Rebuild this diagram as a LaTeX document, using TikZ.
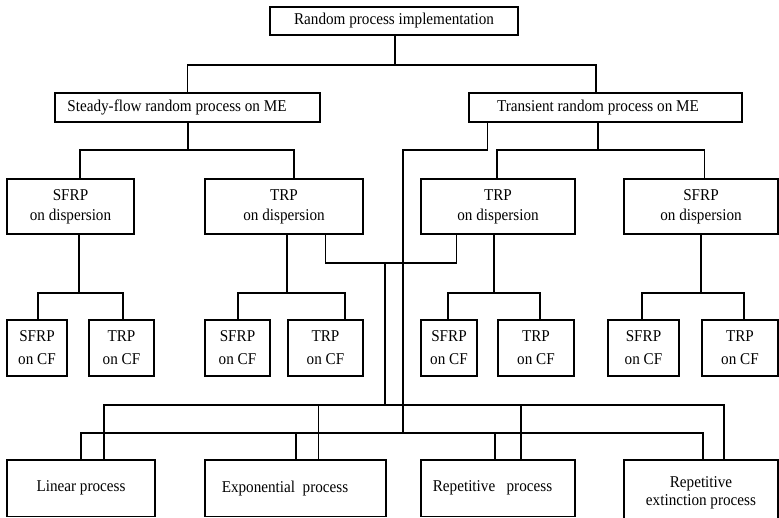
\documentclass[tikz,border=0pt]{standalone}
\usepackage{fontspec}
\setmainfont[FakeStretch=0.92]{Liberation Serif}
\usetikzlibrary{positioning,calc}
\tikzset{
  blk/.style={draw,line width=1.1pt,align=center,font=\fontsize{16.5}{20}\selectfont,inner sep=2pt},
  mebox/.style={blk,minimum height=29pt},
  disp/.style={blk,minimum height=55pt},
  leaf/.style={blk,minimum height=56pt,font=\fontsize{16.5}{23}\selectfont},
  proc/.style={blk,minimum height=56.5pt,font=\fontsize{16.5}{18}\selectfont},
  ln/.style={line width=1.1pt},
}

\begin{document}
\begin{tikzpicture}[x=1pt,y=-1pt]
  \useasboundingbox (0,0) rectangle (779,517);
  \clip (0,0) rectangle (779,517);
  \node[blk,minimum width=248pt,minimum height=28pt] (root) at (394,21) {Random process implementation};
  \node[mebox,minimum width=265pt] (sfme) at (187.5,107.5) {Steady-flow random process on ME\hspace*{21pt}};
  \node[mebox,minimum width=273pt] (trme) at (605.5,107.5) {Transient random process on ME\hspace*{15pt}};
  \node[disp,minimum width=127pt] (d1) at (70.5,206.5) {SFRP\\on dispersion};
  \node[disp,minimum width=158pt] (d2) at (284,206.5) {TRP\\on dispersion};
  \node[disp,minimum width=154pt] (d3) at (498,206.5) {TRP\\on dispersion};
  \node[disp,minimum width=154pt] (d4) at (701,206.5) {SFRP\\on dispersion};
  \node[leaf,minimum width=60pt] (l1) at (37,348) {SFRP\\on CF};
  \node[leaf,minimum width=65pt] (l2) at (121.5,348) {TRP\\on CF};
  \node[leaf,minimum width=65pt] (l3) at (237.5,348) {SFRP\\on CF};
  \node[leaf,minimum width=75pt] (l4) at (325.5,348) {TRP\\on CF};
  \node[leaf,minimum width=56pt] (l5) at (449,348) {SFRP\\on CF};
  \node[leaf,minimum width=76pt] (l6) at (536,348) {TRP\\on CF};
  \node[leaf,minimum width=71pt] (l7) at (643.5,348) {SFRP\\on CF};
  \node[leaf,minimum width=76pt] (l8) at (740,348) {TRP\\on CF};
  \node[proc,minimum width=148pt] (b1) at (81,488.25) {Linear process};
  \node[proc,minimum width=181pt] (b2) at (295.5,488.25) {Exponential~~process\hspace*{21pt}};
  \node[proc,minimum width=154pt] (b3) at (498,488.25) {Repetitive~~~process\hspace*{11pt}};
  \node[proc,minimum width=154pt,minimum height=80pt] (b4) at (701,500) {Repetitive\\extinction process\\\mbox{}};
  \coordinate (j0) at (395,65);
  \coordinate (j1) at (188,150);
  \coordinate (j2) at (598,150);
  \coordinate (j3) at (403,150);
  \coordinate (k) at (385,263);
  \coordinate (bus1) at (385,405);
  \coordinate (bus2) at (403,433);
  \draw[ln] (root.south -| j0) -- (j0) -| (sfme.north);
  \draw[ln] (j0) -| ([xshift=-9.5pt]trme.north);
  \draw[ln] (sfme.south -| j1) -- (j1);
  \draw[ln] ([xshift=9.5pt]d1.north) |- (j1) -| ([xshift=10pt]d2.north);
  \draw[ln] (trme.south -| j2) -- (j2);
  \draw[ln] ([xshift=-1pt]d3.north) |- (j2) -| ([xshift=3.5pt]d4.north);
  \draw[ln] ([xshift=19pt]trme.south west) |- (j3) -- (bus2);
  \draw[ln] ([xshift=-38pt]d2.south east) |- (k) -| ([xshift=36pt]d3.south west);
  \draw[ln] (k) -- (bus1);
  \foreach \d/\a/\b/\x/\sa/\sb in {d1/l1/l2/79/1/1.5, d2/l3/l4/287/0.5/19.5, d3/l5/l6/494/-1/4, d4/l7/l8/701/-1.5/4}{
    \coordinate (m) at (\x,293);
    \draw[ln] (\d.south -| m) -- (m);
    \draw[ln] ([xshift=\sa pt]\a.north) |- (m) -| ([xshift=\sb pt]\b.north);
  }
  \foreach \n/\s in {b1/0, b2/0.5, b3/-3, b4/2}{
    \draw[ln] ([xshift=\s pt]\n.north) |- (bus2);
    \draw[ln] ([xshift=23pt]\n.north) |- (bus1);
  }
\end{tikzpicture}
\end{document}
